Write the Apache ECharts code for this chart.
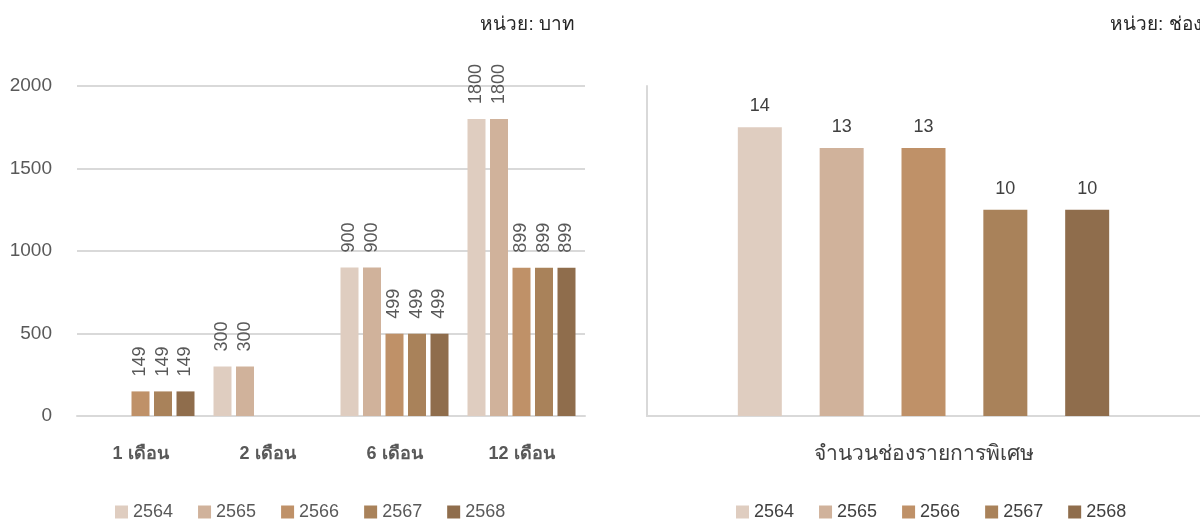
<!DOCTYPE html>
<html>
<head>
<meta charset="utf-8">
<script src="https://cdn.jsdelivr.net/npm/echarts@6/dist/echarts.min.js"></script>
<style>html,body{margin:0;padding:0;background:#fff}#c{width:1200px;height:519px}</style>
</head>
<body>
<div id="c"></div>
<script>
const years = ['2564', '2565', '2566', '2567', '2568'];
const priceCategories = ['1 เดือน', '2 เดือน', '6 เดือน', '12 เดือน'];
const price2564 = [null, 300, 900, 1800];
const price2565 = [null, 300, 900, 1800];
const price2566 = [149, null, 499, 899];
const price2567 = [149, null, 499, 899];
const price2568 = [149, null, 499, 899];
const priceSeries = [price2564, price2565, price2566, price2567, price2568];
const channelCategories = ['จำนวนช่องรายการพิเศษ'];
const channelValues = [14, 13, 13, 10, 10];
const priceTicks = [0, 500, 1000, 1500, 2000];
const leftUnit = 'หน่วย: บาท';
const rightUnit = 'หน่วย: ช่อง';

const colors = ['#dfcdc0', '#d0b29b', '#bf9168', '#a9825a', '#8f6d4c'];
const FONT = 'Liberation Sans, Noto Sans, sans-serif';
const grey = '#595959';

const chart = echarts.init(document.getElementById('c'), null, {renderer: 'canvas'});

const series = [];
years.forEach((y, i) => {
  series.push({
    name: y, type: 'bar', xAxisIndex: 0, yAxisIndex: 0,
    data: priceSeries[i].map(v => v === null ? '-' : v),
    barWidth: 18, barGap: '25%',
    itemStyle: {color: colors[i]},
    label: {show: true, position: 'top', rotate: 90, align: 'left', verticalAlign: 'middle',
      distance: 15, fontSize: 18, color: grey, fontFamily: FONT}
  });
});
years.forEach((y, i) => {
  series.push({
    name: y, type: 'bar', xAxisIndex: 1, yAxisIndex: 1,
    data: [channelValues[i]],
    barWidth: 44, barGap: '86%',
    itemStyle: {color: colors[i]},
    label: {show: true, position: 'top', distance: 12, fontSize: 18, color: '#404040', fontFamily: FONT}
  });
});

chart.setOption({
  animation: false,
  color: colors,
  textStyle: {fontFamily: FONT},
  title: [
    {text: leftUnit, right: 620, top: 10, textStyle: {fontSize: 19, fontWeight: 'normal', color: '#262626', fontFamily: FONT}},
    {text: rightUnit, left: 1105, top: 10, textStyle: {fontSize: 19, fontWeight: 'normal', color: '#262626', fontFamily: FONT}}
  ],
  legend: [
    {data: years, left: 110, top: 498, itemWidth: 13, itemHeight: 13, itemGap: 25, icon: 'rect',
      textStyle: {fontSize: 18, color: grey, fontFamily: FONT}},
    {data: years, left: 731, top: 498, itemWidth: 13, itemHeight: 13, itemGap: 25, icon: 'rect',
      textStyle: {fontSize: 18, color: '#404040', fontFamily: FONT}}
  ],
  grid: [
    {left: 77, right: 615, top: 86, bottom: 103},
    {left: 647, right: 0, top: 86, bottom: 103}
  ],
  xAxis: [
    {type: 'category', gridIndex: 0, data: priceCategories,
      axisLine: {show: true, lineStyle: {color: '#d9d9d9', width: 2}}, axisTick: {show: false},
      axisLabel: {margin: 29, fontSize: 18, fontWeight: 'bold', color: grey, fontFamily: FONT}},
    {type: 'category', gridIndex: 1, data: channelCategories,
      axisLine: {show: true, lineStyle: {color: '#d9d9d9', width: 2}}, axisTick: {show: false},
      axisLabel: {margin: 28, fontSize: 21, color: '#404040', fontFamily: FONT}}
  ],
  yAxis: [
    {type: 'value', gridIndex: 0, min: priceTicks[0], max: priceTicks[priceTicks.length - 1], interval: 500,
      axisLine: {show: false}, axisTick: {show: false},
      splitLine: {lineStyle: {color: '#d9d9d9', width: 2}},
      axisLabel: {margin: 25, fontSize: 19, color: grey, fontFamily: FONT, formatter: v => String(v)}},
    {type: 'value', gridIndex: 1, min: 0, max: 16,
      axisLine: {show: true, lineStyle: {color: '#d9d9d9', width: 2}}, axisTick: {show: false},
      splitLine: {show: false}, axisLabel: {show: false}}
  ],
  series: series
});
</script>
</body>
</html>
